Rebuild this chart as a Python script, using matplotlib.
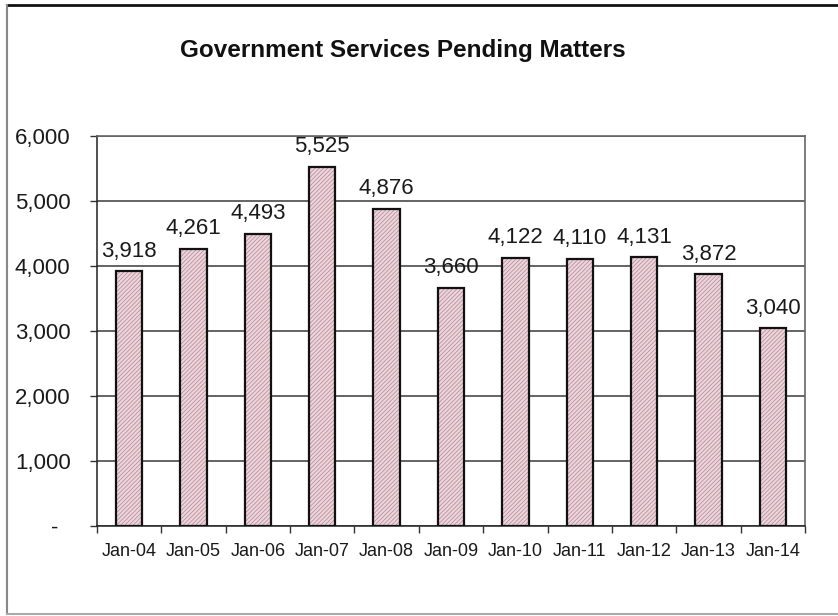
import matplotlib.pyplot as plt
from matplotlib.lines import Line2D
import numpy as np

plt.rcParams['font.family'] = ['Liberation Sans', 'DejaVu Sans']
plt.rcParams['hatch.linewidth'] = 0.55

# pending matters at each January
months = ['Jan-04', 'Jan-05', 'Jan-06', 'Jan-07', 'Jan-08', 'Jan-09',
          'Jan-10', 'Jan-11', 'Jan-12', 'Jan-13', 'Jan-14']
pending = [3918, 4261, 4493, 5525, 4876, 3660, 4122, 4110, 4131, 3872, 3040]
yticks = [0, 1000, 2000, 3000, 4000, 5000, 6000]
ytick_labels = ['-  ', '1,000', '2,000', '3,000', '4,000', '5,000', '6,000']

W, H = 838, 616
fig = plt.figure(figsize=(W / 100, H / 100), dpi=100)
ax = fig.add_axes([97 / W, 1 - 526 / H, 708 / W, 390 / H])

x = np.arange(len(months))
# hatched pink fill, then a black outline on top
ax.bar(x, pending, width=0.41, color='#f1d3dc', edgecolor='#a8929a',
       hatch='////////', linewidth=0, zorder=3)
ax.bar(x, pending, width=0.41, fill=False, edgecolor='#111111',
       linewidth=1.6, zorder=4)

for xi, v in zip(x, pending):
    ax.annotate(f'{v:,}', (xi, v), xytext=(0, 7), textcoords='offset points',
                ha='center', va='bottom', fontsize=16, color='#1a1a1a')

ax.set_xlim(-0.5, len(months) - 0.5)
ax.set_ylim(0, 6000)
ax.set_yticks(yticks)
ax.set_yticklabels(ytick_labels, fontsize=16, color='#1a1a1a')
ax.set_xticks(x)
ax.set_xticklabels(months, fontsize=13, color='#1a1a1a')
ax.set_xticks(np.arange(len(months) + 1) - 0.5, minor=True)
ax.tick_params(axis='x', which='major', length=0, pad=12)
ax.tick_params(axis='x', which='minor', length=5, width=1, color='#333333')
ax.tick_params(axis='y', length=5, width=1, color='#333333', pad=14)

ax.yaxis.grid(True, color='#3a3a3a', linewidth=1.1, zorder=1)
ax.set_axisbelow(True)
for side in ['left', 'bottom']:
    ax.spines[side].set_color('#222222')
    ax.spines[side].set_linewidth(1.1)
for side in ['top', 'right']:
    ax.spines[side].set_color('#666666')
    ax.spines[side].set_linewidth(1.2)

fig.text(403 / W, 1 - 57 / H, 'Government Services Pending Matters',
         ha='center', va='baseline', fontsize=17.5, fontweight='bold',
         color='#111111')

# outer chart border
fig.add_artist(Line2D([7 / W, 1], [1 - 5 / H, 1 - 5 / H],
                      transform=fig.transFigure, color='#111111', linewidth=2))
fig.add_artist(Line2D([7 / W, 7 / W], [1 - 5 / H, 1 - 614 / H],
                      transform=fig.transFigure, color='#888888', linewidth=1.5))
fig.add_artist(Line2D([7 / W, 1], [1 - 614 / H, 1 - 614 / H],
                      transform=fig.transFigure, color='#aaaaaa', linewidth=1.5))

fig.savefig('out.png', dpi=100)
